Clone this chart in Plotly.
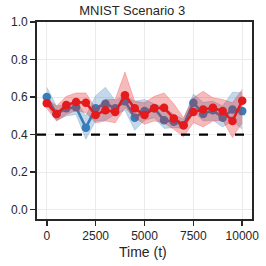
import plotly.graph_objects as go

time = list(range(0, 10001, 500))

blue_mean = [0.60, 0.51, 0.54, 0.545, 0.437, 0.54, 0.564, 0.54, 0.578, 0.49, 0.525,
             0.54, 0.476, 0.469, 0.45, 0.57, 0.51, 0.53, 0.49, 0.534, 0.525]
blue_upper = [0.652, 0.552, 0.560, 0.578, 0.499, 0.607, 0.652, 0.582, 0.610, 0.578, 0.587,
              0.564, 0.546, 0.507, 0.481, 0.616, 0.572, 0.578, 0.552, 0.626, 0.623]
blue_lower = [0.560, 0.476, 0.499, 0.507, 0.375, 0.472, 0.476, 0.507, 0.529, 0.423, 0.476,
              0.490, 0.433, 0.437, 0.433, 0.525, 0.472, 0.476, 0.441, 0.472, 0.428]

red_mean = [0.567, 0.51, 0.557, 0.573, 0.57, 0.504, 0.53, 0.52, 0.61, 0.54, 0.504,
            0.54, 0.543, 0.486, 0.45, 0.52, 0.534, 0.543, 0.525, 0.472, 0.58]
red_upper = [0.592, 0.552, 0.604, 0.622, 0.622, 0.539, 0.587, 0.587, 0.733, 0.578, 0.569,
             0.604, 0.622, 0.564, 0.490, 0.596, 0.631, 0.596, 0.587, 0.569, 0.640]
red_lower = [0.539, 0.472, 0.507, 0.529, 0.516, 0.463, 0.472, 0.463, 0.543, 0.490, 0.455,
             0.472, 0.463, 0.428, 0.388, 0.463, 0.441, 0.472, 0.476, 0.384, 0.463]

threshold = 0.4
title = "MNIST Scenario 3"
x_label = "Time (t)"
x_ticks = [0, 2500, 5000, 7500, 10000]
y_ticks = [0.0, 0.2, 0.4, 0.6, 0.8, 1.0]

BLUE = "#377eb8"
RED = "#e41a1c"
FONT = "Liberation Sans, Arial, sans-serif"

fig = go.Figure()

def add_series(mean, lo, hi, color, fill):
    fig.add_trace(go.Scatter(x=time, y=hi, mode="lines", line=dict(width=0.8, color=fill),
                             showlegend=False, hoverinfo="skip"))
    fig.add_trace(go.Scatter(x=time, y=lo, mode="lines", line=dict(width=0.8, color=fill),
                             fill="tonexty", fillcolor=fill, showlegend=False, hoverinfo="skip"))
    fig.add_trace(go.Scatter(x=time, y=mean, mode="lines+markers",
                             line=dict(color=color, width=2.6),
                             marker=dict(color=color, size=8.5), showlegend=False))

add_series(blue_mean, blue_lower, blue_upper, BLUE, "rgba(55,126,184,0.3)")
add_series(red_mean, red_lower, red_upper, RED, "rgba(228,26,28,0.3)")

fig.add_trace(go.Scatter(x=[-500, 10500], y=[threshold, threshold], mode="lines",
                         line=dict(color="black", width=2.2, dash="dash"), showlegend=False))

axis_common = dict(showline=True, linecolor="#262626", linewidth=1.8, mirror=True,
                   ticks="outside", ticklen=5, tickwidth=1.5, tickcolor="#262626",
                   showgrid=True, gridcolor="#ebebeb", gridwidth=1, zeroline=False,
                   automargin=False,
                   tickfont=dict(family=FONT, size=12, color="#262626"))

fig.update_layout(
    width=266, height=266,
    margin=dict(l=37, r=14, t=22, b=47),
    paper_bgcolor="white", plot_bgcolor="white",
    title=dict(text=title, x=0.497, xanchor="center", y=0.962, yanchor="middle",
               font=dict(family=FONT, size=13, color="#262626")),
    xaxis=dict(range=[-500, 10500], tickvals=x_ticks, ticktext=[str(v) for v in x_ticks],
               **axis_common),
    yaxis=dict(range=[-0.05, 1.0], tickvals=y_ticks, ticktext=[f"{v:.1f}" for v in y_ticks],
               **axis_common),
    annotations=[dict(text=x_label, xref="paper", yref="paper", x=0.495, y=-0.165,
                      xanchor="center", yanchor="middle", showarrow=False,
                      font=dict(family=FONT, size=14, color="#262626"))],
)

fig.write_html("out.html", config={"displayModeBar": False, "staticPlot": True},
               post_script="document.body.style.margin='0';document.body.style.overflow='hidden';")
